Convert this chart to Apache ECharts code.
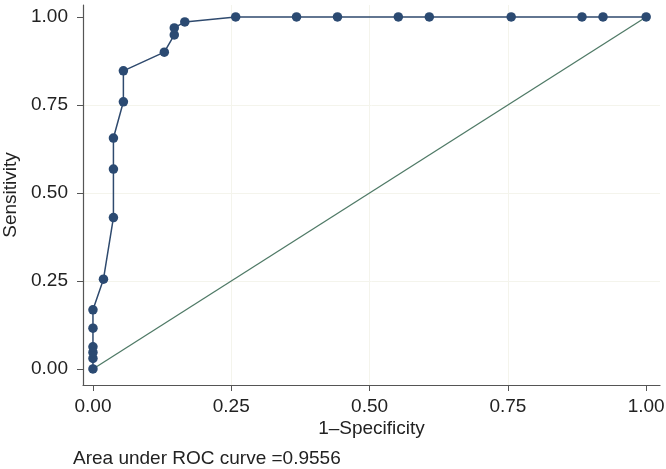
<!DOCTYPE html>
<html>
<head>
<meta charset="utf-8">
<script src="https://cdn.jsdelivr.net/npm/echarts@6/dist/echarts.min.js"></script>
<style>html,body{margin:0;padding:0;background:#fff}#c{width:666px;height:469px}</style>
</head>
<body>
<div id="c"></div>
<script>
var specComp = [0, 0, 0, 0, 0, 0, 0.019, 0.037, 0.037, 0.037, 0.055, 0.055, 0.129, 0.147, 0.147, 0.166, 0.258, 0.368, 0.442, 0.552, 0.608, 0.756, 0.884, 0.922, 1];
var sensitivity = [0, 0.03, 0.047, 0.063, 0.116, 0.168, 0.255, 0.43, 0.568, 0.656, 0.759, 0.847, 0.9, 0.949, 0.969, 0.986, 1, 1, 1, 1, 1, 1, 1, 1, 1];
var tickValues = [0, 0.25, 0.5, 0.75, 1];
var refLine = [[0, 0], [1, 1]];
var aucText = 'Area under ROC curve =0.9556';

var curve = specComp.map(function (x, i) { return [x, sensitivity[i]]; });
var font = 'Liberation Sans, Arial, sans-serif';
var chart = echarts.init(document.getElementById('c'), null, {renderer: 'canvas'});
var gridLines = [];
tickValues.slice(1, 4).forEach(function (v) {
  gridLines.push({xAxis: v});
  gridLines.push({yAxis: v});
});
chart.setOption({
  animation: false,
  backgroundColor: '#fff',
  grid: {left: 83, right: 6, top: 5, bottom: 84, containLabel: false, outerBoundsMode: 'none'},
  xAxis: {
    type: 'value', min: -0.018, max: 1.025,
    name: '1\u2013Specificity', nameLocation: 'middle', nameGap: 34, nameMoveOverlap: false,
    nameTextStyle: {fontFamily: font, fontSize: 19, color: '#222'},
    axisLine: {show: true, onZero: false, lineStyle: {color: '#555', width: 1.2}},
    axisTick: {show: true, length: 6, customValues: tickValues, lineStyle: {color: '#555'}},
    axisLabel: {customValues: tickValues, fontFamily: font, fontSize: 19, color: '#222', margin: 12,
      formatter: function (v) { return v.toFixed(2); }},
    splitLine: {show: false}
  },
  yAxis: {
    type: 'value', min: -0.0455, max: 1.034,
    name: 'Sensitivity', nameLocation: 'middle', nameGap: 63, nameRotate: 90, nameMoveOverlap: false,
    nameTextStyle: {fontFamily: font, fontSize: 19, color: '#222'},
    axisLine: {show: true, onZero: false, lineStyle: {color: '#555', width: 1.2}},
    axisTick: {show: true, length: 6, customValues: tickValues, lineStyle: {color: '#555'}},
    axisLabel: {customValues: tickValues, fontFamily: font, fontSize: 19, color: '#222', margin: 15,
      formatter: function (v) { return v.toFixed(2); }},
    splitLine: {show: false}
  },
  series: [
    {
      type: 'line', data: [], symbol: 'none', z: 0,
      markLine: {
        silent: true, symbol: 'none', label: {show: false}, z: 0,
        lineStyle: {color: '#f4f4ec', width: 1, type: 'solid'},
        data: gridLines
      }
    },
    {
      type: 'line', data: refLine, symbol: 'none',
      lineStyle: {color: '#4f7a66', width: 1.3},
      z: 2
    },
    {
      type: 'line', data: curve, symbol: 'circle', symbolSize: 9.5,
      lineStyle: {color: '#2f4a6e', width: 1.5},
      itemStyle: {color: '#2b4a72'},
      z: 3
    }
  ],
  graphic: [{
    type: 'text', left: 73, top: 449,
    style: {text: aucText, font: '19px ' + font, fill: '#222'}
  }]
});
</script>
</body>
</html>
